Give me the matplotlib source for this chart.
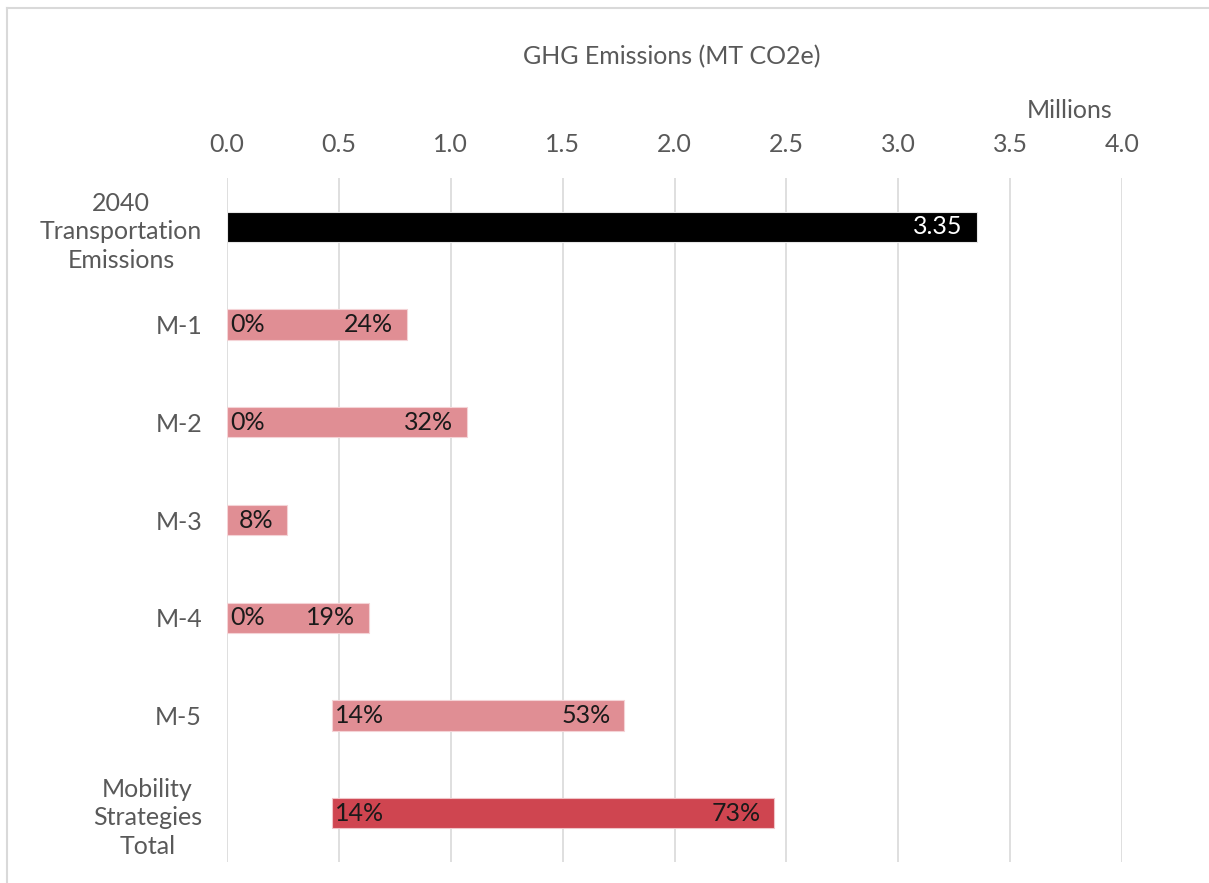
import matplotlib.pyplot as plt
from matplotlib.lines import Line2D

# emissions baseline (millions MT CO2e) and reduction share ranges per strategy
categories = ['2040\nTransportation\nEmissions', 'M-1', 'M-2', 'M-3', 'M-4', 'M-5',
              'Mobility\nStrategies\nTotal']
baseline = 3.35
pct_low = [None, 0.00, 0.00, 0.00, 0.00, 0.14, 0.14]
pct_high = [None, 0.24, 0.32, 0.08, 0.19, 0.53, 0.73]
low_labels = [None, '0%', '0%', None, '0%', '14%', '14%']
high_labels = ['3.35', '24%', '32%', '8%', '19%', '53%', '73%']
colors = ['#000000', '#E08E94', '#E08E94', '#E08E94', '#E08E94', '#E08E94', '#CF4550']
edges = ['#E6E6E6', '#F4D3D6', '#F4D3D6', '#F4D3D6', '#F4D3D6', '#F4D3D6', '#F0C4C8']

plt.rcParams['font.family'] = ['Lato', 'DejaVu Sans']
grey = '#595959'

fig = plt.figure(figsize=(12.09, 8.83), dpi=100)
ax = fig.add_axes([227 / 1209, 1 - 862 / 883, (1122 - 227) / 1209, (862 - 178) / 883])

y = list(range(len(categories)))
starts, widths = [], []
for i in y:
    if pct_low[i] is None:
        s, e = 0, baseline
    else:
        s, e = pct_low[i] * baseline, pct_high[i] * baseline
    starts.append(s)
    widths.append(e - s)

ax.barh(y, widths, left=starts, height=0.31, color=colors,
        edgecolor=edges, linewidth=0.8, zorder=3)

for i in y:
    s = starts[i]
    e = starts[i] + widths[i]
    tcol = 'white' if i == 0 else '#1a1a1a'
    if low_labels[i]:
        ax.annotate(low_labels[i], (s, i), xytext=(2, 0), textcoords='offset points',
                    ha='left', va='center', fontsize=18, color=tcol, zorder=4)
    ax.annotate(high_labels[i], (e, i), xytext=(-10, 0), textcoords='offset points',
                ha='right', va='center', fontsize=18, color=tcol, zorder=4)

ax.set_xlim(0, 4.0)
ax.set_ylim(len(categories) - 0.5, -0.5)
ax.set_xticks([0, 0.5, 1.0, 1.5, 2.0, 2.5, 3.0, 3.5, 4.0])
ax.set_xticklabels(['0.0', '0.5', '1.0', '1.5', '2.0', '2.5', '3.0', '3.5', '4.0'])
ax.xaxis.tick_top()
ax.set_yticks(y)
ax.set_yticklabels(categories)
ax.tick_params(axis='x', length=0, pad=16, labelsize=18, labelcolor=grey)
ax.tick_params(axis='y', length=0, pad=18, labelsize=18, labelcolor=grey)
for lbl in ax.get_yticklabels():
    lbl.set_multialignment('center')
    lbl.set_linespacing(1.3)

ax.grid(axis='x', color='#D9D9D9', linewidth=1.2, zorder=0)
for sp in ax.spines.values():
    sp.set_visible(False)

fig.text(672 / 1209, 1 - 57 / 883, 'GHG Emissions (MT CO2e)', ha='center', va='center',
         fontsize=18, color=grey)
fig.text(1070 / 1209, 1 - 110 / 883, 'Millions', ha='center', va='center',
         fontsize=18, color=grey)

# chart area outline (top and left edges)
fig.add_artist(Line2D([7 / 1209, 1], [1 - 8 / 883, 1 - 8 / 883], transform=fig.transFigure,
                      color='#D9D9D9', linewidth=1.5))
fig.add_artist(Line2D([7 / 1209, 7 / 1209], [1 - 8 / 883, 0], transform=fig.transFigure,
                      color='#D9D9D9', linewidth=1.5))

fig.savefig('out.png', dpi=100, facecolor='white')
